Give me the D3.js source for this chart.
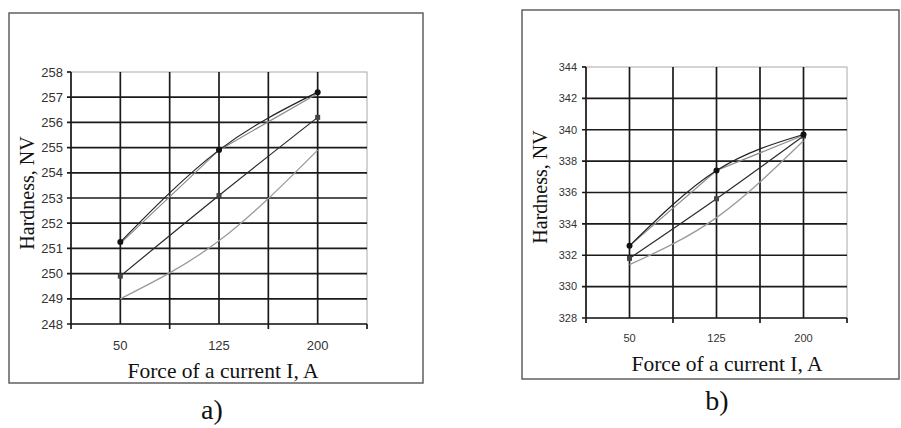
<!DOCTYPE html>
<html>
<head>
<meta charset="utf-8">
<script src="https://cdn.jsdelivr.net/npm/d3@7"></script>
<style>
  body { margin: 0; background: #fff; }
  svg { display: block; }
</style>
</head>
<body>
<svg id="chart" width="901" height="428"></svg>
<script>
// categories (current, A)
var currents = [50, 125, 200];

// panel a) hardness values
var aUpper  = [251.25, 254.9, 257.2];
var aUpper2 = [251.2, 254.9, 257.15];
var aMiddle = [249.9, 253.1, 256.2];
var aLower  = [249.0, 251.3, 254.9];
var aTicks  = [248, 249, 250, 251, 252, 253, 254, 255, 256, 257, 258];

// panel b) hardness values
var bUpper  = [332.6, 337.4, 339.7];
var bUpper2 = [332.6, 337.4, 339.65];
var bMiddle = [331.8, 335.6, 339.6];
var bLower  = [331.4, 334.4, 339.3];
var bTicks  = [328, 330, 332, 334, 336, 338, 340, 342, 344];

var xGrid = [12.5, 50, 87.5, 125, 162.5, 200, 237.5];
var xTickMarks = [12.5, 87.5, 162.5, 237.5];

var svg = d3.select('#chart');

function drawPanel(cfg){
    var g = svg.append('g');

    // outer frame
    g.append('rect')
        .attr('x', cfg.frame[0]).attr('y', cfg.frame[1])
        .attr('width', cfg.frame[2]).attr('height', cfg.frame[3])
        .attr('fill', 'none').attr('stroke', '#555').attr('stroke-width', 1.4);

    var x = d3.scaleLinear().domain([12.5, 237.5]).range([cfg.plot[0], cfg.plot[0] + cfg.plot[2]]);
    var y = d3.scaleLinear().domain(cfg.yDomain).range([cfg.plot[1] + cfg.plot[3], cfg.plot[1]]);

    // plot border (faint)
    g.append('rect')
        .attr('x', x(12.5)).attr('y', y(cfg.yDomain[1]))
        .attr('width', x(237.5) - x(12.5)).attr('height', y(cfg.yDomain[0]) - y(cfg.yDomain[1]))
        .attr('fill', 'none').attr('stroke', '#aaa').attr('stroke-width', 1);

    // horizontal grid
    g.selectAll('.hg').data(cfg.ticks.slice(0, -1)).enter().append('line')
        .attr('x1', x(12.5) - 4).attr('x2', x(237.5))
        .attr('y1', function(d){ return y(d); }).attr('y2', function(d){ return y(d); })
        .attr('stroke', '#1a1a1a').attr('stroke-width', 1.7);
    // top tick only
    g.append('line')
        .attr('x1', x(12.5) - 4).attr('x2', x(12.5))
        .attr('y1', y(cfg.yDomain[1])).attr('y2', y(cfg.yDomain[1]))
        .attr('stroke', '#1a1a1a').attr('stroke-width', 1.7);

    // vertical grid
    g.selectAll('.vg').data(xGrid.slice(1, -1)).enter().append('line')
        .attr('x1', function(d){ return x(d); }).attr('x2', function(d){ return x(d); })
        .attr('y1', y(cfg.yDomain[1])).attr('y2', y(cfg.yDomain[0]))
        .attr('stroke', '#1a1a1a').attr('stroke-width', 1.7);

    // y axis line
    g.append('line')
        .attr('x1', x(12.5)).attr('x2', x(12.5))
        .attr('y1', y(cfg.yDomain[1])).attr('y2', y(cfg.yDomain[0]))
        .attr('stroke', '#1a1a1a').attr('stroke-width', 1.7);

    // x tick marks below axis
    g.selectAll('.xt').data(xTickMarks).enter().append('line')
        .attr('x1', function(d){ return x(d); }).attr('x2', function(d){ return x(d); })
        .attr('y1', y(cfg.yDomain[0])).attr('y2', y(cfg.yDomain[0]) + 5)
        .attr('stroke', '#1a1a1a').attr('stroke-width', 1.7);

    // y tick labels
    g.selectAll('.yl').data(cfg.ticks).enter().append('text')
        .attr('x', x(12.5) - cfg.yLabelGap)
        .attr('y', function(d){ return y(d); })
        .attr('dy', '0.35em')
        .attr('text-anchor', 'end')
        .attr('font-family', 'Liberation Sans, Arial, sans-serif')
        .attr('font-size', cfg.tickSize)
        .attr('fill', '#333')
        .text(function(d){ return d; });

    // x tick labels
    g.selectAll('.xl').data(currents).enter().append('text')
        .attr('x', function(d){ return x(d); })
        .attr('y', y(cfg.yDomain[0]) + cfg.xLabelGap)
        .attr('text-anchor', 'middle')
        .attr('font-family', 'Liberation Sans, Arial, sans-serif')
        .attr('font-size', cfg.tickSize)
        .attr('fill', '#333')
        .text(function(d){ return d; });

    // series
    function series(vals, color, width, curve){
        var line = d3.line()
            .x(function(d, i){ return x(currents[i]); })
            .y(function(d){ return y(d); })
            .curve(curve);
        g.append('path').datum(vals)
            .attr('d', line)
            .attr('fill', 'none')
            .attr('stroke', color)
            .attr('stroke-width', width);
    }
    series(cfg.lower, '#9a9a9a', 1.3, d3.curveNatural);
    series(cfg.upper2, '#8a8a8a', 1.2, d3.curveLinear);
    series(cfg.middle, '#2a2a2a', 1.2, d3.curveNatural);
    series(cfg.upper, '#222', 1.2, d3.curveNatural);

    g.selectAll('.sq').data(cfg.middle).enter().append('rect')
        .attr('x', function(d, i){ return x(currents[i]) - 2.5; })
        .attr('y', function(d){ return y(d) - 2.5; })
        .attr('width', 5).attr('height', 5)
        .attr('fill', '#444');
    g.selectAll('.dot').data(cfg.upper).enter().append('circle')
        .attr('cx', function(d, i){ return x(currents[i]); })
        .attr('cy', function(d){ return y(d); })
        .attr('r', 3)
        .attr('fill', '#111');

    // axis titles
    g.append('text')
        .attr('transform', 'translate(' + cfg.yTitle[0] + ',' + cfg.yTitle[1] + ') rotate(-90)')
        .attr('text-anchor', 'middle')
        .attr('dy', '0.35em')
        .attr('font-family', 'Liberation Serif, Times New Roman, serif')
        .attr('font-size', 20)
        .attr('fill', '#111')
        .text('Hardness, NV');
    g.append('text')
        .attr('x', cfg.xTitle[0]).attr('y', cfg.xTitle[1])
        .attr('text-anchor', 'middle')
        .attr('font-family', 'Liberation Serif, Times New Roman, serif')
        .attr('font-size', 21.5)
        .attr('fill', '#111')
        .text('Force of a current I, A');

    // panel letter
    g.append('text')
        .attr('x', cfg.letter[0]).attr('y', cfg.letter[1])
        .attr('text-anchor', 'middle')
        .attr('font-family', 'Liberation Serif, Times New Roman, serif')
        .attr('font-size', 28)
        .attr('fill', '#111')
        .text(cfg.name);
}

drawPanel({
    name: 'a)',
    frame: [9, 13, 414, 370],
    plot: [71, 72, 296, 252],
    yDomain: [248, 258],
    ticks: aTicks,
    upper: aUpper, upper2: aUpper2, middle: aMiddle, lower: aLower,
    tickSize: 13, yLabelGap: 8, xLabelGap: 26,
    yTitle: [27, 193], xTitle: [223, 378], letter: [212, 419]
});

drawPanel({
    name: 'b)',
    frame: [522, 10, 377, 369],
    plot: [586, 67, 261, 251],
    yDomain: [328, 344],
    ticks: bTicks,
    upper: bUpper, upper2: bUpper2, middle: bMiddle, lower: bLower,
    tickSize: 11, yLabelGap: 9, xLabelGap: 24,
    yTitle: [540, 187], xTitle: [727, 371], letter: [717, 410]
});
</script>
</body>
</html>
